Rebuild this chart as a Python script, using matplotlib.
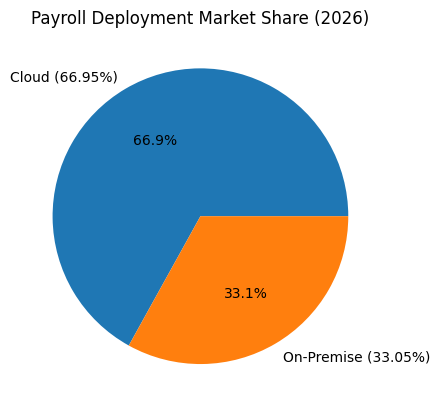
import matplotlib
matplotlib.use("Agg")
import matplotlib.pyplot as plt

labels = ["Cloud (66.95%)", "On-Premise (33.05%)"]
shares = [66.949, 33.051]

fig, ax = plt.subplots(figsize=(6.4, 4.8), dpi=100)
ax.pie(shares, labels=labels, autopct="%1.1f%%")
ax.set_title("Payroll Deployment Market Share (2026)")
fig.savefig("out.png", bbox_inches="tight")
